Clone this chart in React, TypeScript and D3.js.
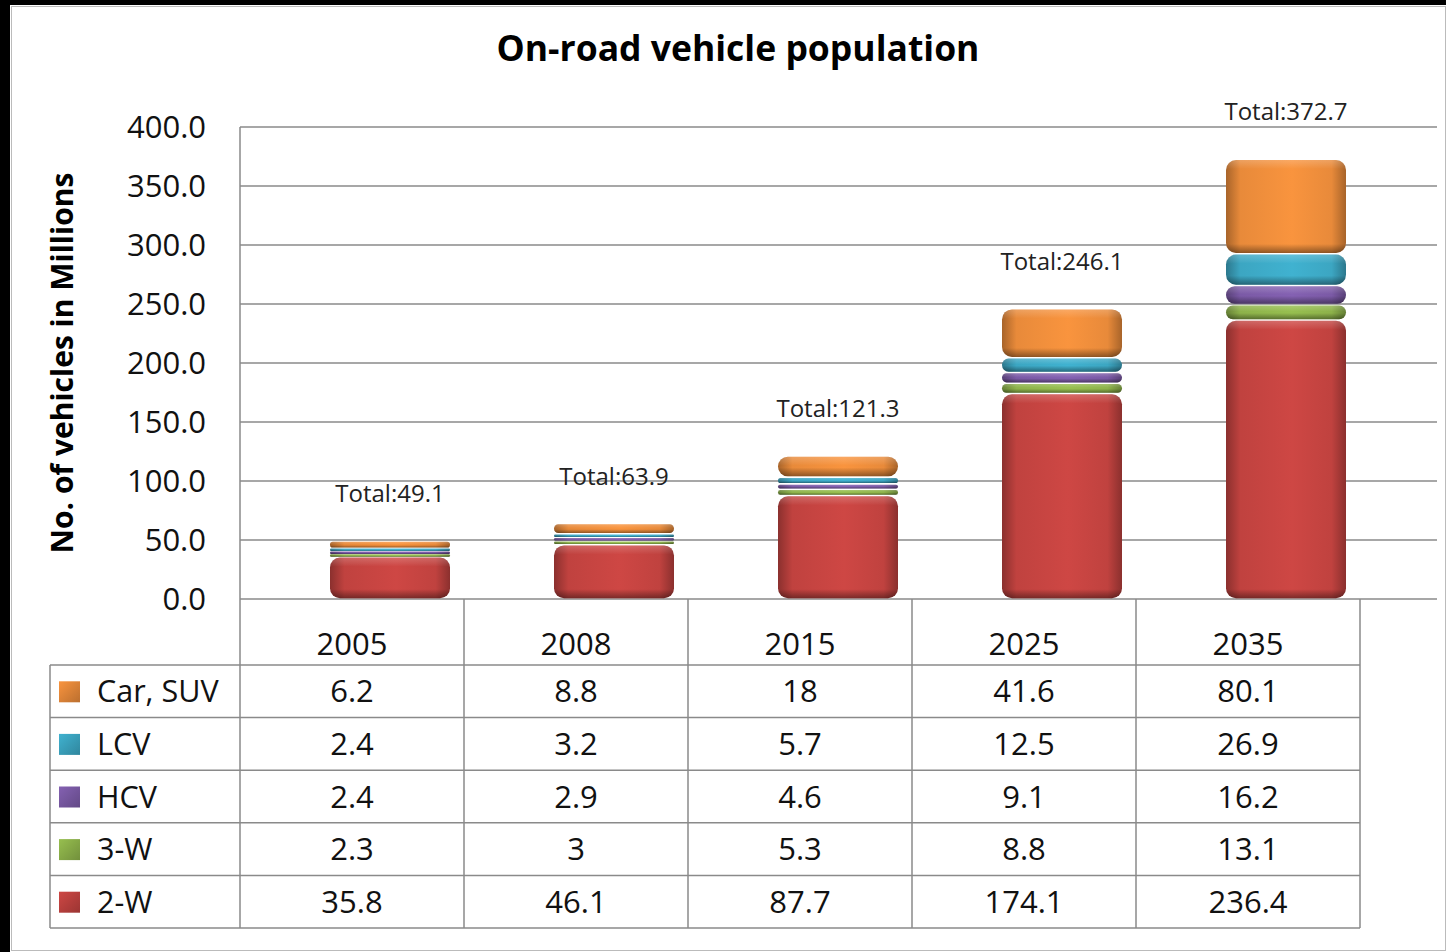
import React from "react";
import * as d3 from "d3";

const years = ["2005", "2008", "2015", "2025", "2035"];
const seriesNames = ["Car, SUV", "LCV", "HCV", "3-W", "2-W"];
const carSuv = [6.2, 8.8, 18, 41.6, 80.1];
const lcv = [2.4, 3.2, 5.7, 12.5, 26.9];
const hcv = [2.4, 2.9, 4.6, 9.1, 16.2];
const threeW = [2.3, 3, 5.3, 8.8, 13.1];
const twoW = [35.8, 46.1, 87.7, 174.1, 236.4];
const totals = [49.1, 63.9, 121.3, 246.1, 372.7];
const yTicks = [0, 50, 100, 150, 200, 250, 300, 350, 400];

const seriesValues = [carSuv, lcv, hcv, threeW, twoW];
const seriesColors = ["#E88A3A", "#3CA6C2", "#7B5AA6", "#8DB24A", "#C0423F"];

const W = 1446;
const H = 952;
const FONT = "'Open Sans', 'Noto Sans', sans-serif";

export default function App() {
  // table columns
  const x = d3.scaleBand<string>().domain(years).range([240, 1360]);
  // bars are drawn with a depth offset to the right of the table columns
  const xb = d3.scaleBand<string>().domain(years).range([278, 1398]);
  const y = d3.scaleLinear().domain([0, 400]).range([599, 127]);
  const bw = 120;
  const rowTop = 665;
  const rowH = 52.6;
  const tableBottom = rowTop + rowH * 5;

  const stackOrder = [4, 3, 2, 1, 0];
  const segments: { key: string; si: number; x0: number; y0: number; h: number }[] = [];
  years.forEach((yr, ci) => {
    let cum = 0;
    stackOrder.forEach((si) => {
      const v = seriesValues[si][ci];
      const yb = y(cum);
      const yt = y(cum + v);
      cum += v;
      const gap = 1.6;
      const h = Math.max(2.5, yb - yt - gap);
      const cy = (yb + yt) / 2;
      segments.push({ key: `s${ci}-${si}`, si, x0: (xb(yr) as number) + xb.bandwidth() / 2 - bw / 2, y0: cy - h / 2, h });
    });
  });

  return (
    <div style={{ position: "absolute", left: 0, top: 0, width: W, height: H }}>
      <svg width={W} height={H} style={{ display: "block" }}>
        <defs>
          {seriesColors.map((c, i) => {
            const dark = d3.color(c)!.darker(0.9).formatHex();
            const light = d3.color(c)!.brighter(0.2).formatHex();
            return (
              <linearGradient key={i} id={`hg${i}`} x1="0" x2="1" y1="0" y2="0">
                <stop offset="0" stopColor={dark} />
                <stop offset="0.12" stopColor={c} />
                <stop offset="0.55" stopColor={light} />
                <stop offset="0.88" stopColor={c} />
                <stop offset="1" stopColor={dark} />
              </linearGradient>
            );
          })}
          {segments.map((s) => {
            const f = Math.min(0.45, 9 / s.h);
            return (
              <linearGradient key={s.key} id={`vg${s.key}`} x1="0" x2="0" y1="0" y2="1">
                <stop offset="0" stopColor="#fff" stopOpacity="0.2" />
                <stop offset={f} stopColor="#fff" stopOpacity="0" />
                <stop offset={1 - f} stopColor="#000" stopOpacity="0" />
                <stop offset="1" stopColor="#000" stopOpacity="0.4" />
              </linearGradient>
            );
          })}
          {seriesColors.map((c, i) => (
            <linearGradient key={`lg${i}`} id={`lg${i}`} x1="0" x2="1" y1="0" y2="1">
              <stop offset="0" stopColor={d3.color(c)!.brighter(0.2).formatHex()} />
              <stop offset="1" stopColor={d3.color(c)!.darker(0.6).formatHex()} />
            </linearGradient>
          ))}
        </defs>
        <rect x={0} y={0} width={W} height={H} fill="#000" />
        <rect x={10} y={5} width={W - 10} height={H - 5} fill="#fff" />
        <rect x={11.5} y={6.5} width={W - 12} height={H - 8} fill="none" stroke="#bbb" strokeWidth={1} />

        <text x={738} y={61} textAnchor="middle" fontFamily={FONT} fontWeight="bold" fontSize={35.5} fill="#000">
          On-road vehicle population
        </text>

        {yTicks.map((t) => (
          <line key={t} x1={240} x2={1437} y1={y(t)} y2={y(t)} stroke="#8a8a8a" strokeWidth={1.5} />
        ))}
        {yTicks.map((t) => (
          <text key={`t${t}`} x={206} y={y(t) + 11} textAnchor="end" fontFamily={FONT} fontSize={31} fill="#111">
            {t.toFixed(1)}
          </text>
        ))}
        <text
          transform={`translate(73,${363}) rotate(-90)`}
          textAnchor="middle"
          fontFamily={FONT}
          fontWeight="bold"
          fontSize={30}
          fill="#000"
        >
          No. of vehicles in Millions
        </text>

        {segments.map((s) => {
          const r = Math.min(10, s.h / 2);
          return (
            <g key={s.key}>
              <rect x={s.x0} y={s.y0} width={bw} height={s.h} rx={r} ry={r} fill={`url(#hg${s.si})`} />
              <rect x={s.x0} y={s.y0} width={bw} height={s.h} rx={r} ry={r} fill={`url(#vg${s.key})`} />
            </g>
          );
        })}

        {years.map((yr, i) => (
          <text
            key={`tot${yr}`}
            x={(xb(yr) as number) + xb.bandwidth() / 2}
            y={y(totals[i]) - 39}
            textAnchor="middle"
            fontFamily={FONT}
            fontSize={24}
            fill="#222"
          >
            {`Total:${totals[i]}`}
          </text>
        ))}

        <line x1={240} x2={240} y1={127} y2={tableBottom} stroke="#8a8a8a" strokeWidth={1.5} />
        {years.map((yr) => (
          <line
            key={`vl${yr}`}
            x1={(x(yr) as number) + x.bandwidth()}
            x2={(x(yr) as number) + x.bandwidth()}
            y1={599}
            y2={tableBottom}
            stroke="#8a8a8a"
            strokeWidth={1.5}
          />
        ))}
        <line x1={50} x2={50} y1={rowTop} y2={tableBottom} stroke="#8a8a8a" strokeWidth={1.5} />
        {d3.range(6).map((k) => (
          <line key={`hl${k}`} x1={50} x2={1360} y1={rowTop + k * rowH} y2={rowTop + k * rowH} stroke="#8a8a8a" strokeWidth={1.5} />
        ))}
        {years.map((yr) => (
          <text
            key={`yl${yr}`}
            x={(x(yr) as number) + x.bandwidth() / 2}
            y={655}
            textAnchor="middle"
            fontFamily={FONT}
            fontSize={31}
            fill="#111"
          >
            {yr}
          </text>
        ))}
        {seriesNames.map((name, si) => {
          const cy = rowTop + si * rowH + rowH / 2;
          return (
            <g key={`row${name}`}>
              <rect x={59} y={cy - 10} width={21} height={21} fill={`url(#lg${si})`} />
              <text x={97} y={cy + 11} fontFamily={FONT} fontSize={30.5} fill="#111">
                {name}
              </text>
              {years.map((yr, ci) => (
                <text
                  key={`v${yr}`}
                  x={(x(yr) as number) + x.bandwidth() / 2}
                  y={cy + 11}
                  textAnchor="middle"
                  fontFamily={FONT}
                  fontSize={31}
                  fill="#111"
                >
                  {String(seriesValues[si][ci])}
                </text>
              ))}
            </g>
          );
        })}
      </svg>
    </div>
  );
}
